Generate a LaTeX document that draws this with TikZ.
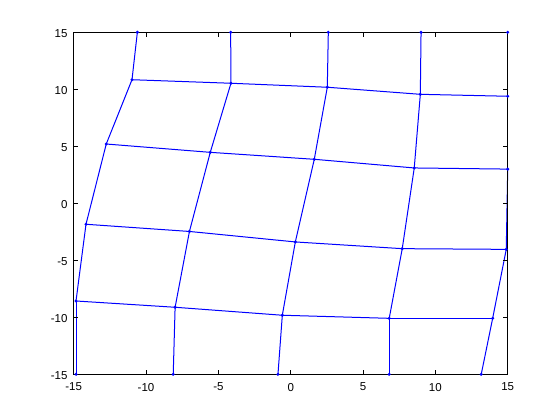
\documentclass[tikz,border=0pt]{standalone}
\usepackage{fontspec}
\setmainfont{Liberation Sans}
\begin{document}
\begin{tikzpicture}[x=1pt,y=1pt,
  gridline/.style={draw=blue, line width=1pt},
  axisline/.style={draw=black, line width=0.9pt},
  ticklab/.style={font=\fontsize{11.5}{13}\selectfont, inner sep=0pt},
  dotmark/.style={fill=blue, draw=none}]
\useasboundingbox (0,0) rectangle (560,420);
\begin{scope}[shift={(290.7,216.7)}, x=14.467pt, y=11.4pt]
% column 0
\coordinate (p00) at (-14.84,-15);
\coordinate (p01) at (-14.84,-8.57);
\coordinate (p02) at (-14.15,-1.84);
\coordinate (p03) at (-12.75,5.20);
\coordinate (p04) at (-10.97,10.84);
\coordinate (p05) at (-10.60,15);
% column 1
\coordinate (p10) at (-8.12,-15);
\coordinate (p11) at (-7.99,-9.12);
\coordinate (p12) at (-7.00,-2.47);
\coordinate (p13) at (-5.56,4.47);
\coordinate (p14) at (-4.13,10.53);
\coordinate (p15) at (-4.15,15);
% column 2
\coordinate (p20) at (-0.88,-15);
\coordinate (p21) at (-0.58,-9.82);
\coordinate (p22) at (0.32,-3.39);
\coordinate (p23) at (1.63,3.86);
\coordinate (p24) at (2.53,10.18);
\coordinate (p25) at (2.60,15);
% column 3
\coordinate (p30) at (6.81,-15);
\coordinate (p31) at (6.81,-10.09);
\coordinate (p32) at (7.71,-3.98);
\coordinate (p33) at (8.54,3.10);
\coordinate (p34) at (8.96,9.56);
\coordinate (p35) at (9.01,15);
% column 4
\coordinate (p40) at (13.17,-15);
\coordinate (p41) at (13.96,-10.09);
\coordinate (p42) at (14.90,-4.04);
\coordinate (p43) at (15,3.0);
\coordinate (p44) at (15,9.39);
\coordinate (p45) at (15,15);
% grid lines
\foreach \c in {0,...,4} {
  \foreach \r [count=\n from 1] in {0,...,4} {
    \draw[gridline] (p\c\r) -- (p\c\n);
  }
}
\foreach \r in {0,...,5} {
  \foreach \c [count=\n from 1] in {0,...,3} {
    \draw[gridline] (p\c\r) -- (p\n\r);
  }
}
% axes box and ticks
\draw[axisline] (-15,-15) rectangle (15,15);
\foreach \t in {-10,-5,0,5,10} {
  \draw[axisline] (\t,-15) -- ++(0,4.5pt);
  \draw[axisline] (\t,15) -- ++(0,-4.5pt);
  \draw[axisline] (-15,\t) -- ++(4.5pt,0);
  \draw[axisline] (15,\t) -- ++(-4.5pt,0);
}
% tick labels
\foreach \t [count=\i] in {-15,-10,-5,0,5,10,15} {
  \node[ticklab, anchor=north] (xl\i) at ([yshift=-8.5pt]\t,-15) {\t};
  \node[ticklab, anchor=east] (yl\i) at ([xshift=-6pt,yshift=-1pt]-15,\t) {\t};
}
% markers
\foreach \c in {0,...,4} {
  \foreach \r in {0,...,5} {
    \fill[dotmark] (p\c\r) circle (1.7pt);
  }
}
\end{scope}
\end{tikzpicture}
\end{document}
